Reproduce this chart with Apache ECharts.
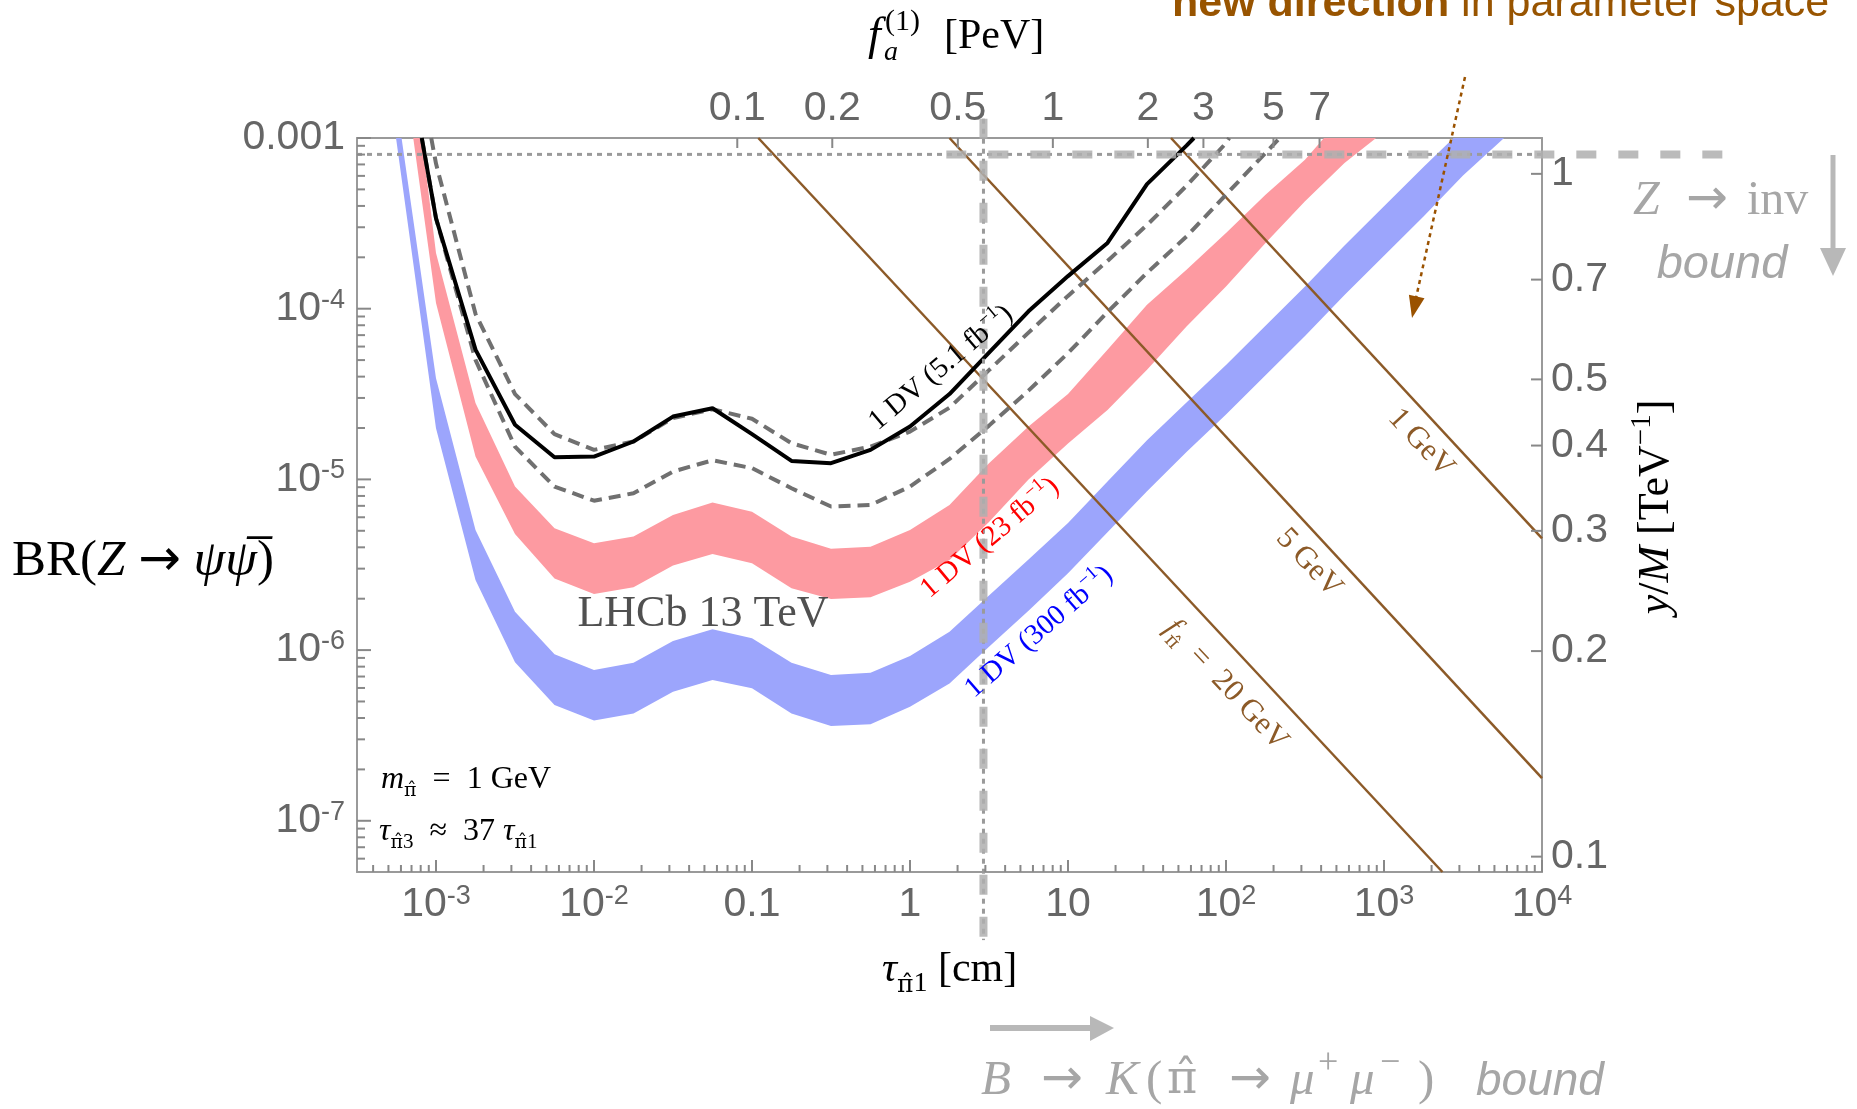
<!DOCTYPE html>
<html><head><meta charset="utf-8">
<script src="https://cdn.jsdelivr.net/npm/echarts@6/dist/echarts.min.js"></script>
<style>html,body{margin:0;padding:0;background:#fff;} #c{width:1857px;height:1109px;}</style>
</head><body><div id="c"></div>
<script>
// ---------- DATA (pairs of [log10 tau/cm, log10 BR]) ----------
const black51 = [[-3.09,-3.0],[-3.0,-3.47],[-2.75,-4.24],[-2.5,-4.68],[-2.25,-4.87],[-2.0,-4.866],[-1.75,-4.778],[-1.5,-4.632],[-1.25,-4.583],[-1.0,-4.735],[-0.75,-4.892],[-0.5,-4.905],[-0.25,-4.827],[0,-4.69],[0.25,-4.5],[0.5,-4.257],[0.75,-4.015],[1.0,-3.809],[1.25,-3.615],[1.5,-3.27],[1.75,-3.045],[1.797,-3.0]];
const dashedUpper = [[-3.03,-3.0],[-3.0,-3.15],[-2.75,-4.03],[-2.5,-4.5],[-2.25,-4.735],[-2.0,-4.827],[-1.75,-4.778],[-1.5,-4.641],[-1.25,-4.589],[-1.0,-4.645],[-0.75,-4.788],[-0.5,-4.856],[-0.25,-4.808],[0,-4.72],[0.25,-4.58],[0.5,-4.36],[0.75,-4.14],[1.0,-3.925],[1.25,-3.72],[1.5,-3.51],[1.75,-3.28],[2.0,-3.03],[2.02,-3.0]];
const dashedLower = [[-3.09,-3.0],[-3.0,-3.47],[-2.75,-4.3],[-2.5,-4.808],[-2.25,-5.042],[-2.0,-5.125],[-1.75,-5.081],[-1.5,-4.954],[-1.25,-4.888],[-1.0,-4.934],[-0.75,-5.052],[-0.5,-5.159],[-0.25,-5.15],[0,-5.042],[0.25,-4.88],[0.5,-4.685],[0.75,-4.48],[1.0,-4.26],[1.25,-4.02],[1.5,-3.79],[1.75,-3.577],[2.0,-3.332],[2.25,-3.088],[2.34,-3.0]];
const red23Upper = [[-3.09,-3.0],[-3.0,-3.674],[-2.75,-4.553],[-2.5,-5.042],[-2.25,-5.286],[-2.0,-5.374],[-1.75,-5.335],[-1.5,-5.208],[-1.25,-5.136],[-1.0,-5.189],[-0.75,-5.335],[-0.5,-5.407],[-0.25,-5.394],[0,-5.296],[0.25,-5.15],[0.5,-4.905],[0.75,-4.69],[1.0,-4.5],[1.25,-4.241],[1.5,-3.977],[1.75,-3.772],[2.0,-3.557],[2.25,-3.332],[2.5,-3.127],[2.62,-3.0]];
const red23Lower = [[-3.144,-3.0],[-3.0,-3.967],[-2.75,-4.866],[-2.5,-5.32],[-2.25,-5.58],[-2.0,-5.672],[-1.75,-5.632],[-1.5,-5.505],[-1.25,-5.437],[-1.0,-5.491],[-0.75,-5.638],[-0.5,-5.7],[-0.25,-5.691],[0,-5.599],[0.25,-5.472],[0.5,-5.25],[0.75,-5.0],[1.0,-4.79],[1.25,-4.593],[1.5,-4.358],[1.75,-4.104],[2.0,-3.87],[2.25,-3.615],[2.5,-3.371],[2.75,-3.147],[2.95,-3.0]];
const blue300Upper = [[-3.218,-3.0],[-3.0,-4.407],[-2.75,-5.296],[-2.5,-5.775],[-2.25,-6.024],[-2.0,-6.117],[-1.75,-6.074],[-1.5,-5.947],[-1.25,-5.878],[-1.0,-5.931],[-0.75,-6.074],[-0.5,-6.146],[-0.25,-6.132],[0,-6.035],[0.25,-5.892],[0.5,-5.68],[0.75,-5.47],[1.0,-5.255],[1.25,-5.013],[1.5,-4.77],[1.75,-4.55],[2.0,-4.33],[2.25,-4.1],[2.5,-3.87],[2.75,-3.63],[3.0,-3.4],[3.25,-3.17],[3.44,-3.0]];
const blue300Lower = [[-3.253,-3.0],[-3.0,-4.7],[-2.75,-5.589],[-2.5,-6.071],[-2.25,-6.322],[-2.0,-6.412],[-1.75,-6.371],[-1.5,-6.244],[-1.25,-6.175],[-1.0,-6.224],[-0.75,-6.371],[-0.5,-6.445],[-0.25,-6.435],[0,-6.332],[0.25,-6.195],[0.5,-5.98],[0.75,-5.77],[1.0,-5.55],[1.25,-5.31],[1.5,-5.07],[1.75,-4.84],[2.0,-4.62],[2.25,-4.39],[2.5,-4.16],[2.75,-3.92],[3.0,-3.69],[3.25,-3.46],[3.5,-3.22],[3.76,-3.0]];
const fpi20 = [[-0.96,-3.0],[3.37,-7.3]];
const fpi5 = [[0.25,-3.0],[4.0,-6.75]];
const fpi1 = [[1.652,-3.0],[4.0,-5.345]];
const zInvDotted = [[-3.5,-3.096],[4.0,-3.096]];
const zInvThick = [[0.23,-3.096],[5.22,-3.096]];
const bkBound = [[0.465,-2.887],[0.465,-7.699]];

// tick label values
const bottomTicks = [1e-3, 1e-2, 0.1, 1, 10, 100, 1000, 10000];
const leftTicks = [1e-7, 1e-6, 1e-5, 1e-4, 1e-3];
const rightTicks = [0.1, 0.2, 0.3, 0.4, 0.5, 0.7, 1];
const topTicks = [0.1, 0.2, 0.5, 1, 2, 3, 5, 7];

// ---------- axis ranges ----------
const X_MIN = Math.pow(10, -3.5), X_MAX = 1e4;
const Y_MIN = Math.pow(10, -7.3), Y_MAX = 1e-3;
const TOP_MIN = Math.pow(10, -2.205), TOP_MAX = Math.pow(10, 1.55);
const R_MIN = Math.pow(10, -1.0225), R_MAX = Math.pow(10, 0.0525);

const SANS = "'Liberation Sans', Arial, sans-serif";
const SERIF = "'Liberation Serif', 'DejaVu Serif', serif";
const DJS = "'DejaVu Serif', serif";
const DJSANS = "'DejaVu Sans', sans-serif";
const AX = '#9a9a9a', TK = '#888888', LAB = '#666666';

function toXY(a) { return a.map(p => [Math.pow(10, p[0]), Math.pow(10, p[1])]); }
function minors(lo, hi) {
  const out = [];
  for (let e = Math.floor(Math.log10(lo)); e <= Math.ceil(Math.log10(hi)); e++)
    for (let m = 2; m <= 9; m++) { const v = m * Math.pow(10, e); if (v > lo * 1.0001 && v < hi * 0.9999) out.push(v); }
  return out;
}
const labRich = {
  b: { fontSize: 41, fontFamily: SANS, color: LAB, lineHeight: 44 },
  s: { fontSize: 27, fontFamily: SANS, color: LAB, lineHeight: 27, verticalAlign: 'top' }
};
function powFmt(v) {
  const e = Math.round(Math.log10(v));
  if (e === -1) return '{b|0.1}';
  if (e === 0) return '{b|1}';
  if (e === 1) return '{b|10}';
  return '{b|10}{s|' + (e < 0 ? '-' : '') + Math.abs(e) + '}';
}
function plainFmt(v) { return '{b|' + String(+(+v).toPrecision(3)) + '}'; }

function axisBase(extra) {
  return Object.assign({
    type: 'log', logBase: 10, gridIndex: 0,
    axisLine: { show: true, onZero: false, lineStyle: { color: AX, width: 2 } },
    axisTick: { show: false },
    splitLine: { show: false }, minorTick: { show: false }, minorSplitLine: { show: false }
  }, extra);
}

function bandSeries(upper, lower, color, z) {
  const pts = toXY(upper.concat(lower.slice().reverse()));
  return {
    type: 'custom', coordinateSystem: 'cartesian2d', xAxisIndex: 0, yAxisIndex: 0,
    silent: true, z: z, data: [[1, 1e-5]],
    renderItem: function (params, api) {
      return { type: 'polygon', shape: { points: pts.map(p => api.coord(p)) }, style: { fill: color } };
    }
  };
}
function lineSeries(data, style, z) {
  return {
    type: 'line', xAxisIndex: 0, yAxisIndex: 0, data: toXY(data), showSymbol: false, symbol: 'none',
    silent: true, z: z, clip: true, lineStyle: style, animation: false
  };
}
// straight segment that may run outside the plot: positions come from the axes' log mapping
function segSeries(data, style, z) {
  return {
    type: 'custom', coordinateSystem: 'cartesian2d', xAxisIndex: 0, yAxisIndex: 0,
    silent: true, z: z, clip: false, data: [[1, 1e-5]],
    renderItem: function (params, api) {
      const o = api.coord([1, 1]), ex = api.coord([10, 1]), ey = api.coord([1, 10]);
      const px = lx => o[0] + (ex[0] - o[0]) * lx;
      const py = ly => o[1] + (ey[1] - o[1]) * ly;
      return { type: 'line', shape: { x1: px(data[0][0]), y1: py(data[0][1]), x2: px(data[1][0]), y2: py(data[1][1]) }, style: style };
    }
  };
}
// inward tick marks drawn through the axes' scales
function tickSeries(xi, yi, values, side, len, probe) {
  return {
    type: 'custom', coordinateSystem: 'cartesian2d', xAxisIndex: xi, yAxisIndex: yi,
    silent: true, z: 20, clip: false, data: [probe],
    renderItem: function (params, api) {
      const children = values.map(function (v) {
        let p, s;
        if (side === 'bottom') { p = api.coord([v, Y_MIN]); s = { x1: p[0], y1: p[1], x2: p[0], y2: p[1] - len }; }
        else if (side === 'top') { p = api.coord([v, Y_MAX]); s = { x1: p[0], y1: p[1], x2: p[0], y2: p[1] + len }; }
        else if (side === 'left') { p = api.coord([X_MIN, v]); s = { x1: p[0], y1: p[1], x2: p[0] + len, y2: p[1] }; }
        else { p = api.coord([X_MAX, v]); s = { x1: p[0], y1: p[1], x2: p[0] - len, y2: p[1] }; }
        return { type: 'line', shape: s, style: { stroke: TK, lineWidth: 2 } };
      });
      return { type: 'group', children: children };
    }
  };
}

// ---------- text helpers ----------
function mrich(S, c) {
  const lh = Math.round(S * 1.3), s2 = Math.round(S * 0.66);
  return {
    n: { fontFamily: SERIF, fontSize: S, fill: c, lineHeight: lh },
    i: { fontFamily: SERIF, fontSize: S, fill: c, fontStyle: 'italic', lineHeight: lh },
    p: { fontFamily: DJS, fontSize: Math.round(S * 0.92), fill: c, lineHeight: lh },
    ar: { fontFamily: DJSANS, fontSize: S, fill: c, lineHeight: lh },
    sub: { fontFamily: SERIF, fontSize: s2, fill: c, fontStyle: 'italic', lineHeight: s2, verticalAlign: 'bottom' },
    subp: { fontFamily: DJS, fontSize: Math.round(S * 0.6), fill: c, lineHeight: s2, verticalAlign: 'bottom' },
    subn: { fontFamily: SERIF, fontSize: s2, fill: c, lineHeight: s2, verticalAlign: 'bottom' },
    sup: { fontFamily: SERIF, fontSize: s2, fill: c, lineHeight: s2, verticalAlign: 'top' },
    ss: { fontFamily: SANS, fontSize: S, fill: c, fontStyle: 'italic', lineHeight: lh },
    bb: { fontFamily: SANS, fontSize: S, fill: c, fontWeight: 'bold', lineHeight: lh },
    sn: { fontFamily: SANS, fontSize: S, fill: c, lineHeight: lh }
  };
}
function T(x, y, text, S, c, align, rot) {
  return {
    type: 'text', x: x, y: y, rotation: (rot || 0) * Math.PI / 180, z: 200, silent: true,
    style: {
      text: text, rich: mrich(S, c), fill: c, fontSize: S, fontFamily: SERIF,
      align: align || 'center', verticalAlign: 'middle',
      textAlign: align || 'center', textVerticalAlign: 'middle'
    }
  };
}
const PIH = '\u03c0\u0302';
const SP = '\u2002';
const BROWN = '#8c5a28', GRAYT = '#a6a6a6', ORANGE = '#985400';

const graphics = [
  // top axis name f_a^(1) [PeV]
  T(868, 37, '{i|f}', 46, '#000', 'left'),
  T(884, 53, '{sub|a}', 42, '#000', 'left'),
  T(885, 22, '{sup|(1)}', 46, '#000', 'left'),
  T(944, 37, '{n|[PeV]}', 42, '#000', 'left'),
  // left axis name
  T(12, 562, '{n|BR(}{i|Z}{n| }{ar|\u2192}{n| }{i|\u03c8\u03c8\u0305}{n|)}', 51, '#000', 'left'),
  // bottom axis name
  T(882, 970, '{i|\u03c4}{subp|' + PIH + '}{subn|1}{n| [cm]}', 42, '#000', 'left'),
  // right axis name
  T(1656, 507, '{i|y}{n|/}{i|M}{n| [TeV}{sup|\u22121}{n|]}', 44, '#000', 'center', 90),
  // in-plot texts
  T(703, 614, '{n|LHCb 13 TeV}', 44, '#505050', 'center'),
  T(381, 780, '{i|m}{subp|' + PIH + '}{n|' + SP + '=' + SP + '1 GeV}', 32, '#000', 'left'),
  T(379, 832, '{i|\u03c4}{subp|' + PIH + '}{subn|3}{n|' + SP + '\u2248' + SP + '37 }{i|\u03c4}{subp|' + PIH + '}{subn|1}', 32, '#000', 'left'),
  T(941, 368, '{n|1 DV (5.1 fb}{sup|\u22121}{n|)}', 29, '#000', 'center', 40),
  T(990, 538, '{n|1 DV (23 fb}{sup|\u22121}{n|)}', 29, '#ff0000', 'center', 40),
  T(1039, 632, '{n|1 DV (300 fb}{sup|\u22121}{n|)}', 29, '#0000ff', 'center', 41),
  T(1421, 443, '{n|1 GeV}', 31, BROWN, 'center', -47),
  T(1309, 563, '{n|5 GeV}', 31, BROWN, 'center', -47),
  T(1226, 685, '{i|f}{subp|' + PIH + '}{n|' + SP + '=' + SP + '20 GeV}', 31, BROWN, 'center', -47),
  // annotations
  T(1172, 4, '{bb|new direction}{sn| in parameter space}', 43, ORANGE, 'left'),
  T(1633, 201, '{i|Z}', 48, GRAYT, 'left'),
  T(1707, 201, '{ar|\u2192}', 50, GRAYT, 'center'),
  T(1747, 201, '{n|inv}', 48, GRAYT, 'left'),
  T(1722, 265, '{ss|bound}', 47, GRAYT, 'center'),
  T(981, 1081, '{i|B}', 49, GRAYT, 'left'),
  T(1062, 1081, '{ar|\u2192}', 50, GRAYT, 'center'),
  T(1106, 1081, '{i|K}', 49, GRAYT, 'left'),
  T(1146, 1081, '{n|(}', 49, GRAYT, 'left'),
  T(1167, 1081, '{p|' + PIH + '}', 50, GRAYT, 'left'),
  T(1250, 1081, '{ar|\u2192}', 50, GRAYT, 'center'),
  T(1290, 1081, '{i|\u03bc}', 49, GRAYT, 'left'),
  T(1318, 1064, '{n|+}', 36, GRAYT, 'left'),
  T(1350, 1081, '{i|\u03bc}', 49, GRAYT, 'left'),
  T(1380, 1064, '{n|\u2212}', 36, GRAYT, 'left'),
  T(1418, 1081, '{n|)}', 49, GRAYT, 'left'),
  T(1476, 1082, '{ss|bound}', 46, GRAYT, 'left'),
  // arrows
  { type: 'line', z: 150, silent: true, shape: { x1: 1833, y1: 155, x2: 1833, y2: 250 }, style: { stroke: '#b8b8b8', lineWidth: 5 } },
  { type: 'polygon', z: 150, silent: true, shape: { points: [[1820, 248], [1846, 248], [1833, 276]] }, style: { fill: '#b8b8b8' } },
  { type: 'line', z: 150, silent: true, shape: { x1: 990, y1: 1028, x2: 1092, y2: 1028 }, style: { stroke: '#b8b8b8', lineWidth: 6 } },
  { type: 'polygon', z: 150, silent: true, shape: { points: [[1090, 1016], [1090, 1041], [1114, 1028]] }, style: { fill: '#b8b8b8' } },
  { type: 'line', z: 150, silent: true, shape: { x1: 1465, y1: 77, x2: 1416, y2: 298 }, style: { stroke: '#9a5200', lineWidth: 2.5, lineDash: [4, 4] } },
  { type: 'polygon', z: 150, silent: true, shape: { points: [[1424.5, 298.2], [1408.9, 294.8], [1412, 318]] }, style: { fill: '#9a5200' } }
];

const option = {
  animation: false,
  backgroundColor: '#ffffff',
  grid: { left: 357, right: 315, top: 138, bottom: 237, containLabel: false, show: false },
  xAxis: [
    axisBase({ position: 'bottom', min: X_MIN, max: X_MAX,
      axisLabel: { show: true, customValues: bottomTicks, margin: 11, formatter: powFmt, rich: labRich } }),
    axisBase({ position: 'top', min: TOP_MIN, max: TOP_MAX,
      axisLabel: { show: true, customValues: topTicks, margin: 7, formatter: plainFmt, rich: labRich } })
  ],
  yAxis: [
    axisBase({ position: 'left', min: Y_MIN, max: Y_MAX,
      axisLabel: { show: true, customValues: leftTicks, margin: 12, formatter: function (v) { return Math.round(Math.log10(v)) === -3 ? '{b|0.001}' : powFmt(v); }, rich: labRich } }),
    axisBase({ position: 'right', min: R_MIN, max: R_MAX,
      axisLabel: { show: true, customValues: rightTicks, margin: 9, formatter: plainFmt, rich: labRich } })
  ],
  series: [
    bandSeries(blue300Upper, blue300Lower, '#9ca5fc', 1),
    bandSeries(red23Upper, red23Lower, '#fd9aa1', 1),
    lineSeries(fpi20, { color: BROWN, width: 2.5 }, 3),
    lineSeries(fpi5, { color: BROWN, width: 2.5 }, 3),
    lineSeries(fpi1, { color: BROWN, width: 2.5 }, 3),
    lineSeries(dashedUpper, { color: '#707070', width: 4, type: [12, 7] }, 4),
    lineSeries(dashedLower, { color: '#707070', width: 4, type: [12, 7] }, 4),
    lineSeries(black51, { color: '#000000', width: 4 }, 5),
    lineSeries(zInvDotted, { color: '#9a9a9a', width: 3, type: [5, 5] }, 6),
    segSeries(bkBound, { stroke: '#9a9a9a', lineWidth: 3, lineDash: [5, 5] }, 6),
    segSeries(zInvThick, { stroke: 'rgba(175,175,175,0.85)', lineWidth: 8, lineDash: [20, 22] }, 7),
    segSeries(bkBound, { stroke: 'rgba(175,175,175,0.85)', lineWidth: 8, lineDash: [20, 22] }, 7),
    tickSeries(0, 0, bottomTicks, 'bottom', 12, [1, 1e-5]),
    tickSeries(0, 0, minors(X_MIN, X_MAX), 'bottom', 7, [1, 1e-5]),
    tickSeries(0, 0, leftTicks, 'left', 14, [1, 1e-5]),
    tickSeries(0, 0, minors(Y_MIN, Y_MAX), 'left', 8, [1, 1e-5]),
    tickSeries(1, 0, topTicks, 'top', 10, [1, 1e-5]),
    tickSeries(0, 1, rightTicks, 'right', 11, [1, 0.5])
  ],
  graphic: { elements: graphics }
};
const chart = echarts.init(document.getElementById('c'), null, { renderer: 'canvas' });
chart.setOption(option);
</script></body></html>
